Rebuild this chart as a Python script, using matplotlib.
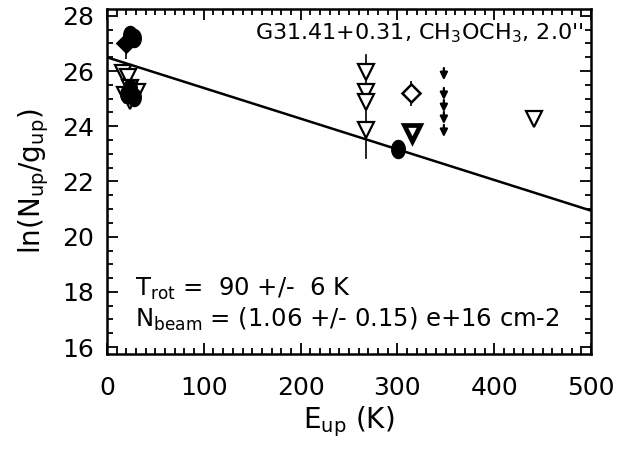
import matplotlib
matplotlib.use("Agg")
import matplotlib.pyplot as plt
import numpy as np
from matplotlib.ticker import MultipleLocator
from matplotlib.path import Path

# ---- data ----
tri_x = [17, 22, 24, 19, 24, 31, 268, 268, 268, 268, 441]
tri_y = [25.93, 25.79, 25.39, 25.14, 24.92, 25.24, 25.97, 25.24, 24.88, 23.87, 24.25]
tri_err = [0.15, 0.15, 0.15, 0.15, 0.15, 0.15, 0.0, 0.0, 0.0, 0.0, 0.25]
tri_thick_x = [315]
tri_thick_y = [23.76]
circ_x = [24, 28, 24, 21, 28, 301]
circ_y = [27.3, 27.2, 25.4, 25.17, 25.06, 23.18]
circ_err = [0.25, 0.25, 0.2, 0.2, 0.2, 0.25]
diam_x = [20, 314]
diam_y = [27.0, 25.2]
diam_err = [0.55, 0.45]
diam_filled = [True, False]
lim_x = [348, 348, 348, 348, 348]
lim_y = [26.11, 25.39, 24.95, 24.52, 24.05]
lim_len = 0.44
bar_x = [268]
bar_lo = [22.85]
bar_hi = [26.6]
t_rot = 90.0
intercept = 26.5
x_fit = [0, 500]

plt.rcParams['font.family'] = ['DejaVu Sans']
fig = plt.figure(figsize=(6.3, 4.57), dpi=100)
ax = fig.add_axes([107/630, 1-354/457, 484/630, 345/457])

# fit line
xf = np.array(x_fit, dtype=float)
ax.plot(xf, intercept - xf / t_rot, color='black', lw=1.8, zorder=2)

# error bars
for x, lo, hi in zip(bar_x, bar_lo, bar_hi):
    ax.plot([x, x], [lo, hi], color='black', lw=1.2, zorder=3)
ax.errorbar(tri_x, tri_y, yerr=tri_err, fmt='none', ecolor='black', elinewidth=1.2, zorder=3)
ax.errorbar(circ_x, circ_y, yerr=circ_err, fmt='none', ecolor='black', elinewidth=1.2, zorder=3)
ax.errorbar(diam_x, diam_y, yerr=diam_err, fmt='none', ecolor='black', elinewidth=1.2, zorder=3)

# elliptical filled marker (IDL user symbol look)
t = np.linspace(0, 2 * np.pi, 40)
ellipse = Path(np.column_stack([0.75 * np.cos(t), np.sin(t)]), closed=True)

ax.plot(tri_x, tri_y, linestyle='none', marker='v', markersize=11, markerfacecolor='white',
        markeredgecolor='black', markeredgewidth=1.6, zorder=4)
ax.plot(tri_thick_x, tri_thick_y, linestyle='none', marker='v', markersize=11, markerfacecolor='white',
        markeredgecolor='black', markeredgewidth=3.4, zorder=4)
ax.plot(circ_x, circ_y, linestyle='none', marker=ellipse, markersize=13, color='black', zorder=5)
for x, y, f in zip(diam_x, diam_y, diam_filled):
    ax.plot([x], [y], linestyle='none', marker='D', markersize=9,
            markerfacecolor='black' if f else 'white', markeredgecolor='black',
            markeredgewidth=1.8, zorder=5)

# upper-limit arrows
for x, y in zip(lim_x, lim_y):
    ax.annotate('', xy=(x, y - lim_len), xytext=(x, y),
                arrowprops=dict(arrowstyle='-|>', color='black', lw=1.6,
                                mutation_scale=11, shrinkA=0, shrinkB=0), zorder=5)

ax.set_xlim(0, 500)
ax.set_ylim(15.75, 28.25)
ax.xaxis.set_major_locator(MultipleLocator(100))
ax.xaxis.set_minor_locator(MultipleLocator(10))
ax.yaxis.set_major_locator(MultipleLocator(2))
ax.yaxis.set_minor_locator(MultipleLocator(0.5))
ax.tick_params(which='both', direction='in', top=True, right=True, width=1.3)
ax.tick_params(which='major', length=8, labelsize=18)
ax.tick_params(axis='x', which='major', pad=16)
ax.tick_params(axis='y', which='major', pad=9)
ax.tick_params(which='minor', length=4)
for s in ax.spines.values():
    s.set_linewidth(1.8)

ax.set_xlabel('E$_{\\mathregular{up}}$ (K)', fontsize=20, labelpad=3)
ax.set_ylabel('ln(N$_{\\mathregular{up}}$/g$_{\\mathregular{up}}$)', fontsize=20, labelpad=8)

ax.text(0.985, 0.965, "G31.41+0.31, CH$_{\\mathregular{3}}$OCH$_{\\mathregular{3}}$, 2.0''",
        transform=ax.transAxes, ha='right', va='top', fontsize=16)
ax.text(0.058, 0.19, "T$_{\\mathregular{rot}}$ =  90 +/-  6 K",
        transform=ax.transAxes, ha='left', va='center', fontsize=17.5)
ax.text(0.058, 0.10, "N$_{\\mathregular{beam}}$ = (1.06 +/- 0.15) e+16 cm-2",
        transform=ax.transAxes, ha='left', va='center', fontsize=17.5)

fig.savefig('out.png', dpi=100)
